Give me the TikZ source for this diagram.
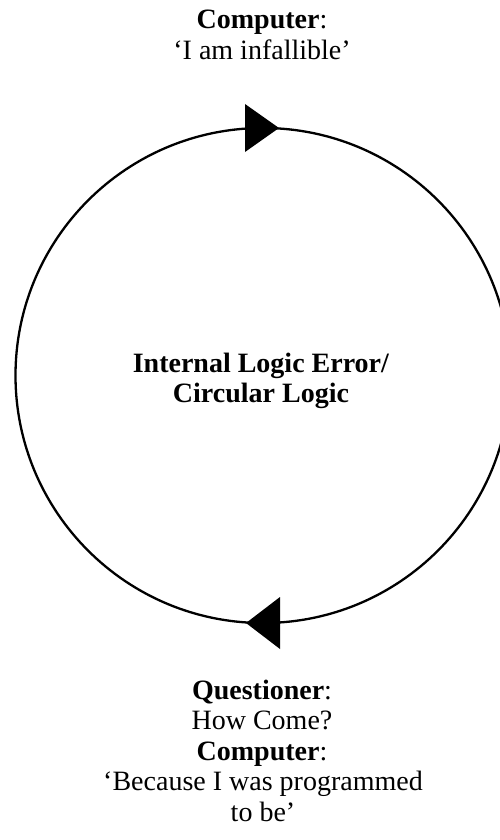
\documentclass[tikz,border=0pt]{standalone}
\usepackage{fontspec}
\setmainfont{Liberation Serif}
\begin{document}
\begin{tikzpicture}[x=1pt,y=-1pt,
  txt/.style={anchor=base, inner sep=0pt, font=\fontsize{28}{31}\selectfont},
  loopline/.style={draw=black, line width=2.3pt},
  tip/.style={fill=black}]
\useasboundingbox (0,0) rectangle (500,840);
\begin{scope}
  \clip (0,0) rectangle (500,840);
  \node[circle, loopline, minimum size=495pt, inner sep=0pt, outer sep=0pt] (loop) at (263,375.5) {};
\end{scope}
% arrowheads on the loop
\fill[tip] ([xshift=16pt]loop.north) -- ([xshift=-18pt,yshift=24pt]loop.north) -- ([xshift=-18pt,yshift=-24pt]loop.north) -- cycle;
\fill[tip] ([xshift=-17pt]loop.south) -- ([xshift=17pt,yshift=26pt]loop.south) -- ([xshift=17pt,yshift=-26pt]loop.south) -- cycle;
% top text
\node[txt] (t1) at (262,29) {\textbf{Computer}:};
\node[txt] (t2) at (262,59.5) {‘I am infallible’};
% centre text
\node[txt] (c1) at (261,372) {\textbf{Internal Logic Error/}};
\node[txt] (c2) at (261,402) {\textbf{Circular Logic}};
% bottom text
\node[txt] (b1) at (262,699) {\textbf{Questioner}:};
\node[txt] (b2) at (262,729.5) {How Come?};
\node[txt] (b3) at (262,760) {\textbf{Computer}:};
\node[txt] (b4) at (263,790.5) {‘Because I was programmed};
\node[txt] (b5) at (263,821) {to be’};
\end{tikzpicture}
\end{document}
